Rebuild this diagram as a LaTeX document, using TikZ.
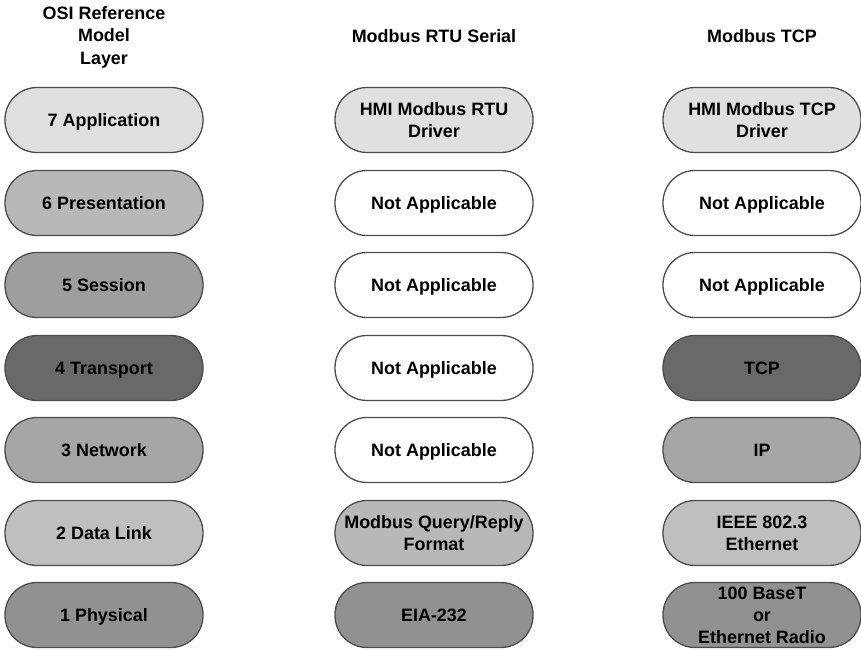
\documentclass[tikz,border=0pt]{standalone}
\usepackage{fontspec}
\setmainfont{Liberation Sans}
\begin{document}
\begin{tikzpicture}[x=1bp,y=-1bp,
  layer/.style={draw=black!70, line width=1.3bp, rounded corners=32bp,
    minimum width=198bp, minimum height=65bp, inner sep=0pt,
    align=center, font=\fontsize{18}{22}\selectfont\bfseries},
  one/.style={text height=13bp, text depth=0pt},
  head/.style={align=center, font=\fontsize{18}{22.5}\selectfont\bfseries},
  g7/.style={layer, fill=black!12},
  g6/.style={layer, fill=black!28},
  g5/.style={layer, fill=black!38},
  g4/.style={layer, fill=black!59},
  g3/.style={layer, fill=black!35},
  g2/.style={layer, fill=black!25},
  g1/.style={layer, fill=black!43},
  na/.style={layer, fill=white}]
\useasboundingbox (0,0) rectangle (861,650);

% column headings
\node[head] (hosi) at (104,37) {OSI Reference\\Model\\Layer};
\node[head, one] (hrtu) at (434,36) {Modbus RTU Serial};
\node[head, one] (htcp) at (762,36) {Modbus TCP};

% OSI layers
\node[g7, one] (o7) at (104,120) {7 Application};
\node[g6, one] (o6) at (104,203) {6 Presentation};
\node[g5, one] (o5) at (104,285) {5 Session};
\node[g4, one] (o4) at (104,368) {4 Transport};
\node[g3, one] (o3) at (104,450) {3 Network};
\node[g2, one] (o2) at (104,533) {2 Data Link};
\node[g1, one] (o1) at (104,615) {1 Physical};

% Modbus RTU serial stack
\node[g7] (r7) at (434,120) {HMI Modbus RTU\\Driver};
\node[na, one] (r6) at (434,203) {Not Applicable};
\node[na, one] (r5) at (434,285) {Not Applicable};
\node[na, one] (r4) at (434,368) {Not Applicable};
\node[na, one] (r3) at (434,450) {Not Applicable};
\node[g6] (r2) at (434,533) {Modbus Query/Reply\\Format};
\node[g1, one] (r1) at (434,615) {EIA-232};

% Modbus TCP stack
\node[g7] (t7) at (762,120) {HMI Modbus TCP\\Driver};
\node[na, one] (t6) at (762,203) {Not Applicable};
\node[na, one] (t5) at (762,285) {Not Applicable};
\node[g4, one] (t4) at (762,368) {TCP};
\node[g3, one] (t3) at (762,450) {IP};
\node[g2] (t2) at (762,533) {IEEE 802.3\\Ethernet};
\node[g1] (t1) at (762,615) {100 BaseT\\or\\Ethernet Radio};
\end{tikzpicture}
\end{document}
